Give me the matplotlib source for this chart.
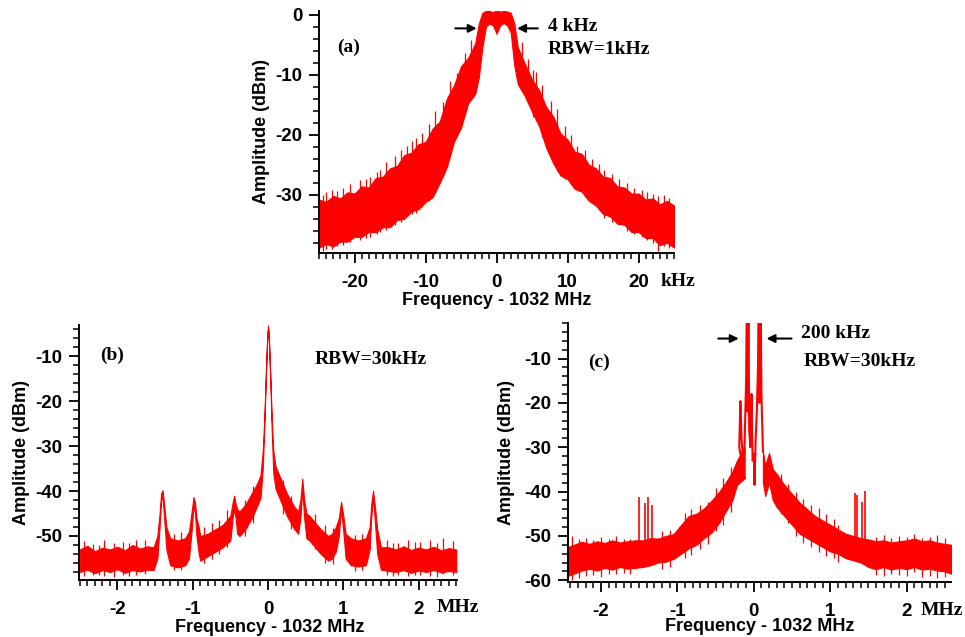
import matplotlib
matplotlib.use("Agg")
import matplotlib.pyplot as plt
from matplotlib.ticker import MultipleLocator

RED = '#ff0000'

# ---- (a) beat note, kHz ----
a_f = [-25, -24, -23, -22, -21, -20, -19, -18, -17, -16, -15, -14, -13, -12, -11, -10,
       -9, -8, -7, -6, -5, -4, -3, -2.5, -2, -1.5, -1, -0.5, 0, 0.5, 1, 1.5, 2, 2.5,
       3, 4, 5, 6, 7, 8, 9, 10, 11, 12, 13, 14, 15, 16, 17, 18, 19, 20, 21, 22, 23, 24, 25]
a_up = [-30.8, -31.2, -30.2, -30.6, -29.6, -29.8, -28.6, -28.8, -27.2, -27.0, -25.6, -25.2, -23.4, -23.0, -21.6, -21.2,
        -19.0, -17.8, -14.0, -11.8, -8.6, -7.2, -4.8, -1.5, 0.3, 0.6, 0.6, 0.4, 0.7, 0.5, 0.6, 0.5, 0.3, -1.5,
        -5.5, -8.2, -10.8, -12.6, -15.4, -17.0, -19.8, -20.8, -22.8, -23.2, -25.0, -25.6, -27.0, -27.2, -28.6, -28.8, -29.8, -29.8, -30.8, -30.6, -31.6, -31.0, -31.8]
a_lo = [-38.8, -38.2, -38.6, -37.8, -37.8, -37.0, -37.0, -36.2, -36.2, -35.4, -35.4, -34.2, -34.0, -32.8, -32.4, -31.2,
        -30.4, -28.0, -25.4, -21.2, -18.8, -14.8, -13.2, -10.5, -5.5, -2.0, -1.5, -1.8, -3.2, -1.8, -1.4, -1.8, -3.0, -8.5,
        -11.6, -13.6, -16.2, -18.6, -22.2, -24.8, -26.8, -27.4, -29.0, -29.5, -31.0, -31.8, -33.2, -33.6, -34.8, -35.0, -36.2, -36.2, -37.2, -37.2, -38.4, -38.0, -38.8]
a_sp_f = [-24.5, -24.0, -23.2, -22.5, -21.6, -20.7, -19.3, -18.4, -17.8, -16.9, -16.4, -15.5, -14.3, -13.5,
          -12.6, -11.9, -11.4, -10.5, -9.5, -8.6, -7.6, -6.5, -5.6, -4.4, -3.6,
          3.6, 4.4, 5.1, 5.6, 6.4, 7.6, 8.5, 9.6, 10.5, 11.4, 12.4, 13.4, 14.5, 15.2, 16.3, 17.3, 18.4,
          19.4, 20.5, 21.2, 22.1, 22.8, 23.6, 24.3]
a_sp_top = [-30.0, -29.6, -29.2, -29.4, -28.8, -28.2, -27.6, -27.4, -27.0, -26.2, -25.8, -24.6, -23.6, -22.6,
            -21.8, -21.0, -20.6, -19.8, -18.2, -16.0, -14.6, -11.0, -9.8, -6.4, -4.2,
            -4.6, -7.4, -9.2, -9.6, -11.8, -14.4, -15.8, -18.6, -20.0, -21.8, -22.6, -24.0, -24.8, -25.8, -26.6, -27.4, -28.0,
            -28.8, -29.2, -29.6, -29.8, -30.2, -30.0, -30.6]
a_sp_bot = [-39.4, -39.0, -39.0, -38.6, -38.4, -37.8, -37.6, -37.2, -37.0, -36.6, -36.2, -35.8, -35.0, -34.6,
            -33.6, -33.2, -33.0, -32.0, -31.0, -29.6, -27.0, -23.4, -20.2, -16.0, -14.0,
            -12.8, -14.6, -17.0, -17.6, -20.4, -23.6, -26.0, -27.4, -28.2, -28.8, -30.4, -30.8, -32.6, -33.8, -34.6, -35.0, -36.0,
            -36.6, -37.0, -37.6, -38.0, -39.4, -38.6, -38.8]

# ---- (b) MHz ----
b_f = [-2.5, -2.4, -2.3, -2.2, -2.1, -2.0, -1.9, -1.8, -1.7, -1.6, -1.52,
       -1.47, -1.44, -1.42, -1.40, -1.38, -1.35, -1.30, -1.2, -1.1, -1.05,
       -1.01, -0.99, -0.97, -0.95, -0.92, -0.9, -0.8, -0.7, -0.6, -0.5,
       -0.47, -0.45, -0.43, -0.41, -0.38, -0.35, -0.3, -0.25, -0.2, -0.15, -0.1, -0.07, -0.05, -0.03, -0.01,
       0.0, 0.01, 0.03, 0.05, 0.07, 0.1, 0.15, 0.2, 0.25, 0.3, 0.35, 0.4,
       0.43, 0.455, 0.48, 0.51, 0.55, 0.6, 0.7, 0.8, 0.85, 0.9,
       0.94, 0.97, 1.0, 1.03, 1.1, 1.2, 1.3, 1.35,
       1.37, 1.395, 1.42, 1.45, 1.5, 1.6, 1.7, 1.8, 1.9, 2.0, 2.1, 2.2, 2.3, 2.4, 2.5]
b_up = [-53.0, -52.2, -53.4, -52.6, -53.0, -52.4, -53.2, -52.0, -52.8, -52.3, -52.5,
        -50.0, -45.0, -40.5, -39.8, -43.0, -48.0, -50.5, -51.0, -50.5, -49.0,
        -44.0, -41.3, -42.5, -46.0, -48.0, -50.0, -49.5, -48.5, -47.5, -45.5,
        -42.5, -41.0, -42.8, -44.0, -44.5, -44.0, -43.0, -41.5, -40.0, -38.5, -36.5, -31.0, -24.0, -14.0, -5.0,
        -3.1, -5.0, -14.0, -24.0, -31.0, -34.5, -36.5, -38.5, -40.5, -42.0, -43.5, -44.5,
        -42.0, -37.2, -42.0, -45.0, -45.5, -46.5, -48.5, -50.0, -49.5, -48.0,
        -46.0, -42.4, -45.5, -49.5, -50.5, -51.0, -50.5, -48.0,
        -43.0, -39.9, -43.5, -48.5, -52.5, -52.5, -53.0, -52.3, -53.1, -52.6, -53.0, -52.4, -53.2, -52.7, -53.0]
b_lo = [-58.0, -57.5, -58.3, -57.6, -58.0, -57.4, -58.2, -57.6, -57.9, -57.5, -57.6,
        -55.0, -48.0, -42.0, -41.5, -46.0, -53.0, -56.5, -57.0, -56.5, -55.0,
        -48.0, -43.0, -45.0, -50.0, -54.0, -55.5, -54.5, -53.5, -52.5, -51.0,
        -46.0, -44.0, -46.0, -49.5, -50.0, -49.5, -48.5, -47.0, -45.5, -43.5, -41.5, -35.0, -26.0, -15.0, -6.0,
        -4.0, -6.0, -15.5, -27.0, -36.0, -39.5, -41.5, -43.5, -45.5, -47.0, -48.5, -49.5,
        -46.0, -39.5, -46.0, -50.5, -51.0, -52.0, -54.0, -55.5, -55.0, -53.5,
        -50.0, -44.0, -49.0, -55.0, -56.5, -56.8, -56.5, -53.0,
        -46.0, -41.5, -47.0, -54.0, -57.5, -57.8, -58.0, -57.6, -58.2, -57.7, -58.0, -57.6, -58.1, -57.8, -58.0]
b_sp_f = [-2.45, -2.33, -2.25, -2.18, -2.04, -1.93, -1.84, -1.76, -1.63, -1.25, -1.15,
          -0.85, -0.75, -0.65, -0.55, -0.3, -0.2, 0.2, 0.3, 0.62, 0.75, 0.86, 1.15, 1.25,
          1.58, 1.66, 1.72, 1.86, 1.95, 2.02, 2.15, 2.24, 2.32, 2.45]
b_sp_top = [-51.2, -51.8, -52.0, -51.0, -51.5, -51.3, -51.6, -50.8, -50.9, -49.5, -49.2,
            -48.0, -47.2, -46.5, -44.2, -42.0, -38.8, -37.5, -41.0, -45.0, -47.5, -48.2, -49.8, -49.5,
            -51.0, -51.6, -51.5, -50.8, -51.4, -51.4, -51.0, -51.6, -50.5, -51.2]
b_sp_bot = [-59.0, -58.8, -58.6, -58.9, -59.2, -58.6, -58.9, -58.8, -58.5, -57.6, -57.5,
            -56.0, -55.2, -54.0, -52.5, -50.0, -47.0, -45.0, -48.5, -53.0, -56.0, -56.2, -57.8, -57.5,
            -58.6, -58.9, -58.8, -59.0, -58.7, -58.6, -58.9, -59.1, -58.5, -58.7]

# ---- (c) MHz ----
c_f = [-2.43, -2.35, -2.25, -2.15, -2.05, -1.95, -1.85, -1.75, -1.65, -1.55, -1.45, -1.35, -1.25,
       -1.15, -1.05, -0.95, -0.85, -0.75, -0.65, -0.55, -0.45, -0.35, -0.28, -0.22, -0.12]
c_up = [-52.5, -52.0, -51.3, -51.8, -51.2, -51.6, -51.0, -51.5, -51.2, -51.0, -51.0, -50.5, -50.6,
        -50.0, -49.6, -47.5, -45.5, -45.0, -43.8, -42.0, -40.0, -37.5, -35.5, -33.0, -30.0]
c_lo = [-59.0, -58.5, -57.8, -57.4, -57.8, -57.2, -57.6, -57.0, -57.4, -57.2, -57.0, -56.6, -56.0,
        -55.8, -55.2, -54.0, -52.8, -52.0, -50.5, -49.2, -47.0, -44.0, -42.0, -38.5, -37.0]
c_f2 = [0.12, 0.15, 0.2, 0.25, 0.3, 0.4, 0.5, 0.6, 0.7, 0.8, 0.9, 1.0, 1.1, 1.2, 1.3,
        1.4, 1.5, 1.6, 1.7, 1.8, 1.9, 2.0, 2.1, 2.2, 2.3, 2.4, 2.5, 2.58]
c_up2 = [-31.0, -34.0, -31.3, -35.0, -36.0, -38.5, -40.5, -42.5, -44.0, -45.5, -46.5, -47.5, -48.5, -49.5, -50.0,
         -50.5, -50.8, -51.2, -51.0, -51.5, -51.2, -51.0, -50.6, -51.2, -51.0, -51.5, -51.8, -52.0]
c_lo2 = [-38.0, -41.0, -38.0, -42.0, -43.5, -45.5, -47.5, -49.5, -50.5, -51.5, -52.5, -53.5, -54.0, -55.0, -55.5,
         -56.0, -57.0, -57.5, -57.0, -57.6, -57.2, -57.5, -57.0, -57.6, -57.4, -57.8, -58.0, -58.5]
# comb of lines round the carrier
c_core_f = [-0.12, -0.19, -0.175, -0.16, -0.13, -0.10, -0.09, -0.08, -0.07, -0.06, -0.045,
            -0.03, -0.015, 0.0, 0.01, 0.025, 0.04, 0.055, 0.065, 0.075, 0.09, 0.10, 0.12]
c_core_a = [-37.0, -30.0, -19.6, -28.0, -36.0, -15.0, 5.0, -22.0, 5.0, -26.0, -30.0,
            -18.0, -33.0, -31.5, -38.5, -28.0, -22.0, -12.0, 5.0, -20.0, 5.0, -18.0, -31.0]
c_sp_f = [-1.50, -1.42, -1.38, -1.33, 1.33, 1.355, 1.41, 1.45]
c_sp_top = [-41.2, -42.5, -41.2, -43.1, -40.3, -40.8, -42.3, -39.8]
c_sp_bot = [-55.0, -54.5, -55.0, -54.5, -54.0, -54.5, -54.0, -54.5]
c_nz_f = [-2.38, -2.29, -2.2, -2.1, -2.0, -1.9, -1.8, -1.7, -1.62, -1.2, -1.1, -0.9, -0.82, -0.7, -0.6,
          -0.5, -0.4, -0.3, 0.35, 0.45, 0.55, 0.65, 0.75, 0.85, 0.95, 1.05, 1.1, 1.6, 1.7, 1.8,
          1.9, 2.0, 2.1, 2.2, 2.3, 2.4, 2.5]
c_nz_top = [-50.0, -50.8, -50.5, -50.9, -50.2, -50.6, -50.0, -50.7, -50.6, -49.0, -48.6, -44.8, -44.0, -43.0, -42.4,
            -39.2, -37.0, -34.5, -36.0, -38.2, -40.0, -41.6, -43.0, -43.6, -45.0, -46.2, -47.5, -50.2, -49.8, -50.5,
            -50.0, -50.3, -49.5, -50.4, -50.2, -49.8, -50.5]
c_nz_bot = [-60.0, -59.4, -59.0, -58.8, -59.2, -58.5, -58.6, -58.4, -58.5, -57.5, -57.0, -55.0, -54.2, -53.0, -51.8,
            -49.0, -47.5, -44.5, -45.0, -47.0, -50.0, -51.5, -52.5, -53.6, -54.5, -55.0, -55.8, -58.8, -59.0, -58.6,
            -58.8, -59.0, -58.2, -59.2, -59.0, -59.4, -59.2]

plt.rcParams['font.family'] = ['Liberation Sans', 'DejaVu Sans']
plt.rcParams['font.weight'] = 'bold'
plt.rcParams['axes.unicode_minus'] = False
SERIF = 'Liberation Serif'

fig = plt.figure(figsize=(9.65, 6.37), dpi=100)
ax_a = fig.add_axes([0.3306, 0.6028, 0.3679, 0.380])
ax_b = fig.add_axes([0.0819, 0.0895, 0.3917, 0.4003])
ax_c = fig.add_axes([0.5886, 0.0863, 0.3969, 0.4066])


def style(ax, xmaj, xmin, ymaj, ymin, unit, labx):
    for s in ['top', 'right']:
        ax.spines[s].set_visible(False)
    for s in ['left', 'bottom']:
        ax.spines[s].set_linewidth(1.4)
    ax.xaxis.set_major_locator(MultipleLocator(xmaj))
    ax.xaxis.set_minor_locator(MultipleLocator(xmin))
    ax.yaxis.set_major_locator(MultipleLocator(ymaj))
    ax.yaxis.set_minor_locator(MultipleLocator(ymin))
    ax.tick_params(which='major', direction='out', length=7, width=1.3, labelsize=13.5)
    ax.tick_params(axis='x', which='major', pad=8)
    ax.tick_params(axis='y', which='major', pad=5)
    ax.tick_params(which='minor', direction='out', length=4, width=1.1)
    for t in ax.get_xticklabels() + ax.get_yticklabels():
        t.set_fontweight('bold')
    ax.set_ylabel('Amplitude (dBm)', fontsize=13, fontweight='bold')
    ax.set_xlabel('Frequency - 1032 MHz', fontsize=13, fontweight='bold')
    bbox = ax.get_position()
    yoff = -28 / (bbox.height * 637)
    ax.text(labx, yoff, unit, transform=ax.transAxes, fontsize=14, fontweight='bold',
            family=SERIF, va='center', ha='left')


def serif_text(ax, x, y, s):
    ax.text(x, y, s, transform=ax.transAxes, family=SERIF, fontsize=14,
            fontweight='bold', va='center')


def arrow(ax, x0, x1, y):
    ax.annotate('', xy=(x1, y), xytext=(x0, y),
                arrowprops=dict(arrowstyle='-|>', color='black', lw=1.5, mutation_scale=12))


# (a)
ax_a.fill_between(a_f, a_lo, a_up, color=RED, lw=0.8, edgecolor=RED)
ax_a.vlines(a_sp_f, a_sp_bot, a_sp_top, color=RED, lw=0.9)
ax_a.set_xlim(-25, 25)
ax_a.set_ylim(-39.7, 0.6)
style(ax_a, 10, 1, 10, 2, 'kHz', 0.963)
ax_a.yaxis.set_label_coords(-0.138, 0.5)
ax_a.xaxis.set_label_coords(0.5, -0.16)
serif_text(ax_a, 0.05, 0.85, '(a)')
serif_text(ax_a, 0.645, 0.934, '4 kHz')
serif_text(ax_a, 0.645, 0.839, 'RBW=1kHz')
arrow(ax_a, -6.2, -2.4, -2.3)
arrow(ax_a, 6.2, 2.5, -2.3)

# (b)
ax_b.fill_between(b_f, b_lo, b_up, color=RED, lw=0.8, edgecolor=RED)
ax_b.vlines(b_sp_f, b_sp_bot, b_sp_top, color=RED, lw=0.9)
ax_b.set_xlim(-2.51, 2.51)
ax_b.set_ylim(-59.8, -3)
style(ax_b, 1, 0.1, 10, 2, 'MHz', 0.945)
ax_b.yaxis.set_label_coords(-0.13, 0.5)
ax_b.xaxis.set_label_coords(0.505, -0.153)
serif_text(ax_b, 0.056, 0.88, '(b)')
serif_text(ax_b, 0.624, 0.863, 'RBW=30kHz')

# (c)
ax_c.fill_between(c_f, c_lo, c_up, color=RED, lw=0.8, edgecolor=RED)
ax_c.fill_between(c_f2, c_lo2, c_up2, color=RED, lw=0.8, edgecolor=RED)
ax_c.plot(c_core_f, c_core_a, color=RED, lw=1.5)
ax_c.vlines(c_sp_f, c_sp_bot, c_sp_top, color=RED, lw=1.2)
ax_c.vlines(c_nz_f, c_nz_bot, c_nz_top, color=RED, lw=0.9)
ax_c.set_xlim(-2.43, 2.58)
ax_c.set_ylim(-60.4, -2)
style(ax_c, 1, 0.1, 10, 2, 'MHz', 0.92)
ax_c.yaxis.set_label_coords(-0.138, 0.5)
ax_c.xaxis.set_label_coords(0.5, -0.139)
serif_text(ax_c, 0.052, 0.85, '(c)')
serif_text(ax_c, 0.608, 0.958, '200 kHz')
serif_text(ax_c, 0.614, 0.85, 'RBW=30kHz')
arrow(ax_c, -0.5, -0.16, -5.5)
arrow(ax_c, 0.53, 0.13, -5.5)

fig.savefig('out.png', dpi=100)
